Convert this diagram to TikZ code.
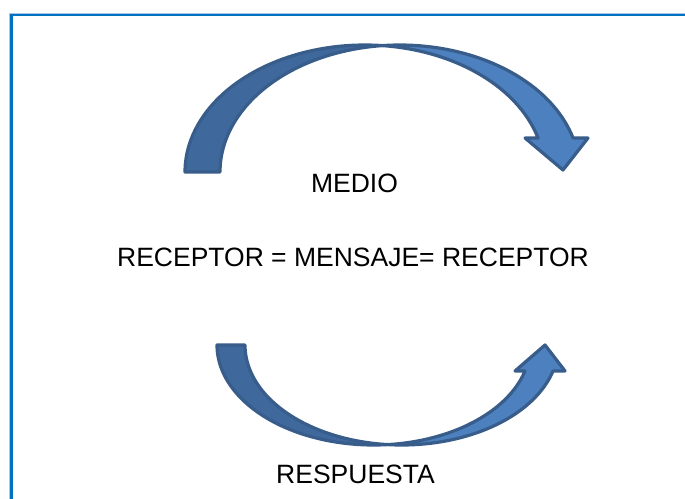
\documentclass[tikz,border=0pt]{standalone}
\usepackage{fontspec}
\setmainfont{Liberation Sans}
\definecolor{framecol}{HTML}{0070C0}
\definecolor{framepale}{HTML}{A9C8E6}
\definecolor{darkfill}{HTML}{3F689C}
\definecolor{lightfill}{HTML}{4D80BE}
\definecolor{arrowline}{HTML}{385D8A}
\tikzset{
  backpart/.style={fill=darkfill, draw=arrowline, line width=3.2pt, line join=round},
  frontpart/.style={fill=lightfill, draw=arrowline, line width=3.2pt, line join=round},
  label/.style={inner sep=0pt, anchor=base, font=\fontsize{26.5}{31}\selectfont}
}
\begin{document}
\begin{tikzpicture}[x=1pt,y=-1pt]
\useasboundingbox (0,0) rectangle (685,498);
\clip (0,0) rectangle (685,498);
\fill[white] (0,0) rectangle (685,498);
% frame (right and bottom sides lie outside the picture)
\draw[framepale, line width=1pt] (9.8,520) -- (9.8,13.7) -- (720,13.7);
\draw[framecol, line width=2.4pt] (11.3,520) |- (720,15.2);
% upper curved arrow (MEDIO)
\draw[backpart] plot[domain=180:84.4, samples=60] ({364.8+179.8*cos(\x)},{172-127*sin(\x)})
  -- plot[domain=95.6:180, samples=60] ({399.8+179.8*cos(\x)},{172-127*sin(\x)}) -- cycle;
\draw[frontpart] plot[domain=95.6:15.5, samples=60] ({399.8+179.8*cos(\x)},{172-127*sin(\x)})
  -- (588,138) -- (563,170) -- (525,138)
  -- plot[domain=15.5:84.4, samples=60] ({364.8+179.8*cos(\x)},{172-127*sin(\x)}) -- cycle;
% lower curved arrow (RESPUESTA)
\draw[backpart] plot[domain=180:84.9, samples=60] ({373.7+156.7*cos(\x)},{345+100*sin(\x)})
  -- plot[domain=95.1:180, samples=60] ({401.7+156.7*cos(\x)},{345+100*sin(\x)}) -- cycle;
\draw[frontpart] plot[domain=95.1:15.07, samples=60] ({401.7+156.7*cos(\x)},{345+100*sin(\x)})
  -- (565,371) -- (545,345) -- (515,371)
  -- plot[domain=15.07:84.9, samples=60] ({373.7+156.7*cos(\x)},{345+100*sin(\x)}) -- cycle;
% texts
\node[label] (medio) at (354.5,192) {MEDIO};
\node[label] (mensaje) at (353,266.7) {RECEPTOR = MENSAJE= RECEPTOR};
\node[label] (respuesta) at (355.5,483.3) {RESPUESTA};
\end{tikzpicture}
\end{document}
